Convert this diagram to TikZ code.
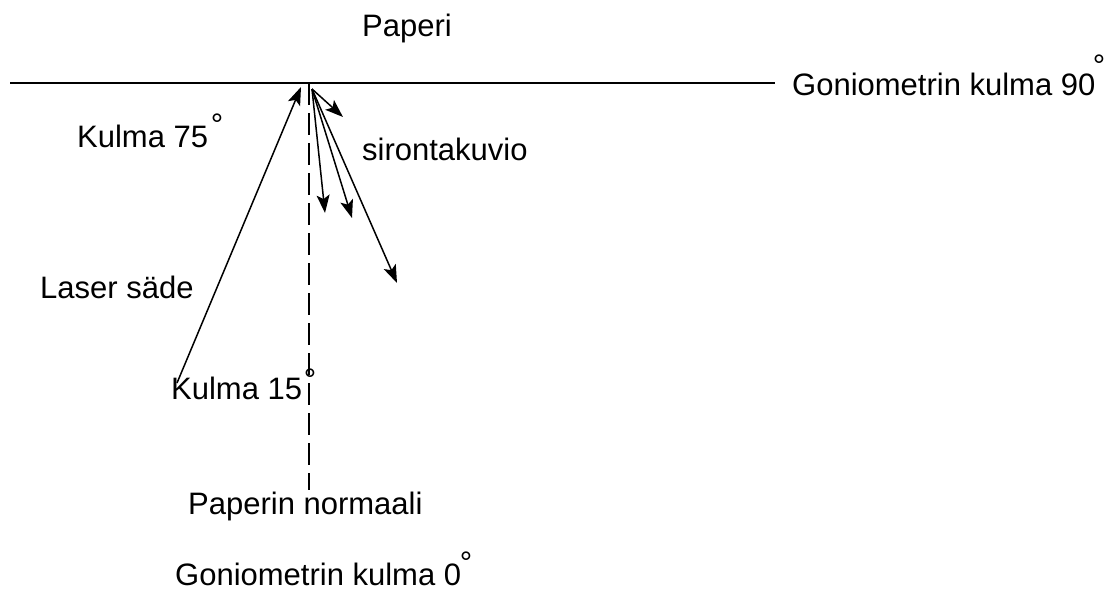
\documentclass[tikz,border=0pt]{standalone}
\usepackage{fontspec}
\setmainfont{Liberation Sans}
\usetikzlibrary{arrows.meta}
\begin{document}
\begin{tikzpicture}[x=1pt,y=-1pt,
  lbl/.style={anchor=base west, inner sep=0pt, font=\fontsize{31}{31}\selectfont},
  deg/.style={anchor=north, inner sep=0pt, font=\fontsize{31}{31}\selectfont},
  ln/.style={line width=1.5pt, black},
  arr/.style={ln, -{Stealth[length=18pt,width=13pt,inset=4pt]}}
]
\useasboundingbox[fill=white] (0,0) rectangle (1114,592);
% paper surface
\coordinate (L) at (10,83);
\coordinate (R) at (775,83);
\draw[ln] (L) -- (R);
% paper normal
\coordinate (nt) at (309,83);
\coordinate (nb) at (309,490);
\draw[line width=1.2pt, dash pattern=on 22pt off 8pt] (nt) -- (nb);
% laser beam
\coordinate (ls) at (177,383);
\coordinate (lt) at (301,87);
\draw[arr] (ls) -- (lt);
% scattering pattern
\coordinate (o) at (312,89);
\coordinate (s1) at (343,117);
\coordinate (s2) at (325,213);
\coordinate (s3) at (352,218);
\coordinate (s4) at (397,283);
\draw[arr] (o) -- (s1);
\draw[arr] (o) -- (s2);
\draw[arr] (o) -- (s3);
\draw[arr] (o) -- (s4);
% labels
\node[lbl] (paperi) at (362,36) {Paperi};
\node[lbl] (g90) at (792,95) {Goniometrin kulma 90};
\node[deg] (d90) at (1099,54.5) {°};
\node[lbl] (k75) at (77,147) {Kulma 75};
\node[deg] (d75) at (217,113.5) {°};
\node[lbl] (siro) at (362,160) {sirontakuvio};
\node[lbl] (laser) at (40,298) {Laser säde};
\node[lbl] (k15) at (171,399) {Kulma 15};
\node[deg] (d15) at (310,368.5) {°};
\node[lbl] (pn) at (188,514) {Paperin normaali};
\node[lbl] (g0) at (175,585) {Goniometrin kulma 0};
\node[deg] (d0) at (466,552) {°};
\end{tikzpicture}
\end{document}
